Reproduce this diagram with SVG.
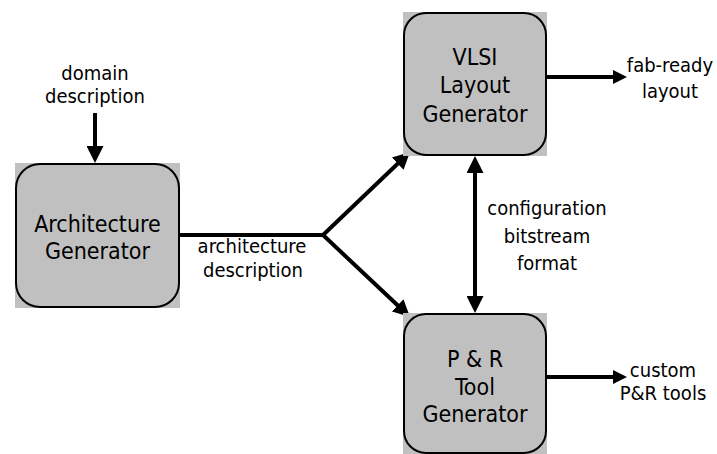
<svg xmlns="http://www.w3.org/2000/svg" width="717" height="454" viewBox="0 0 717 454">
  <style>
    .bg { fill: #ffffff; }
    .plate { fill: #c0c0c0; }
    .frame { fill: none; stroke: #000000; stroke-width: 2; }
    .title { font-family: "DejaVu Sans", Tahoma, Verdana, sans-serif; font-stretch: condensed; font-size: 23px; fill: #000000; text-anchor: middle; }
    .label { font-family: "DejaVu Sans", Tahoma, Verdana, sans-serif; font-stretch: condensed; font-size: 20px; fill: #000000; text-anchor: middle; }
    .wire { fill: none; stroke: #000000; stroke-width: 4; stroke-linejoin: miter; stroke-linecap: butt; }
  </style>
  <defs>
    <!-- large head: 17 long, 17 wide; tip sits 8px past the line end -->
    <marker id="head" markerUnits="userSpaceOnUse" markerWidth="17" markerHeight="17" refX="9" refY="8.5" orient="auto-start-reverse" viewBox="0 0 17 17">
      <path d="M0,0 L17,8.5 L0,17 Z" fill="#000000"/>
    </marker>
    <!-- small head for the output arrows -->
    <marker id="headSmall" markerUnits="userSpaceOnUse" markerWidth="14" markerHeight="14" refX="6" refY="7" orient="auto" viewBox="0 0 14 14">
      <path d="M0,0 L14,7 L0,14 Z" fill="#000000"/>
    </marker>
  </defs>

  <rect class="bg" x="0" y="0" width="717" height="454"/>

  <g id="connectors">
    <!-- domain description into the architecture generator -->
    <line class="wire" x1="95" y1="113" x2="95" y2="155" marker-end="url(#head)"/>
    <!-- architecture description trunk and its two branches -->
    <line class="wire" x1="180" y1="235" x2="323" y2="235"/>
    <path class="wire" d="M404.2,157.5 L323,235 L404.2,311.5" marker-start="url(#head)" marker-end="url(#head)"/>
    <!-- configuration bitstream format, both ways -->
    <line class="wire" x1="475" y1="164" x2="475" y2="305" marker-start="url(#head)" marker-end="url(#head)"/>
    <!-- outputs -->
    <line class="wire" x1="547" y1="77" x2="619" y2="77" marker-end="url(#headSmall)"/>
    <line class="wire" x1="547" y1="377" x2="619" y2="377" marker-end="url(#headSmall)"/>
  </g>

  <g id="architecture-generator">
    <rect class="plate" x="15" y="163" width="165" height="145"/>
    <rect class="frame" x="16" y="164" width="163" height="143" rx="24" ry="24"/>
    <text class="title" x="97.5" y="232">Architecture</text>
    <text class="title" x="97.5" y="259">Generator</text>
  </g>

  <g id="vlsi-layout-generator">
    <rect class="plate" x="403" y="12" width="144" height="144"/>
    <rect class="frame" x="404" y="13" width="142" height="142" rx="22" ry="22"/>
    <text class="title" x="475" y="65">VLSI</text>
    <text class="title" x="475" y="93">Layout</text>
    <text class="title" x="475" y="122">Generator</text>
  </g>

  <g id="pr-tool-generator">
    <rect class="plate" x="403" y="313" width="144" height="144"/>
    <rect class="frame" x="404" y="314" width="142" height="139" rx="22" ry="22"/>
    <text class="title" x="475" y="367">P &amp; R</text>
    <text class="title" x="475" y="395">Tool</text>
    <text class="title" x="475" y="422">Generator</text>
  </g>

  <g id="labels">
    <text class="label" x="95" y="80">domain</text>
    <text class="label" x="95" y="103">description</text>
    <text class="label" x="252" y="253">architecture</text>
    <text class="label" x="253" y="277">description</text>
    <text class="label" x="547" y="215">configuration</text>
    <text class="label" x="547" y="243">bitstream</text>
    <text class="label" x="547" y="270">format</text>
    <text class="label" x="670" y="72">fab-ready</text>
    <text class="label" x="670" y="98">layout</text>
    <text class="label" x="663" y="377">custom</text>
    <text class="label" x="663" y="400">P&amp;R tools</text>
  </g>
</svg>
